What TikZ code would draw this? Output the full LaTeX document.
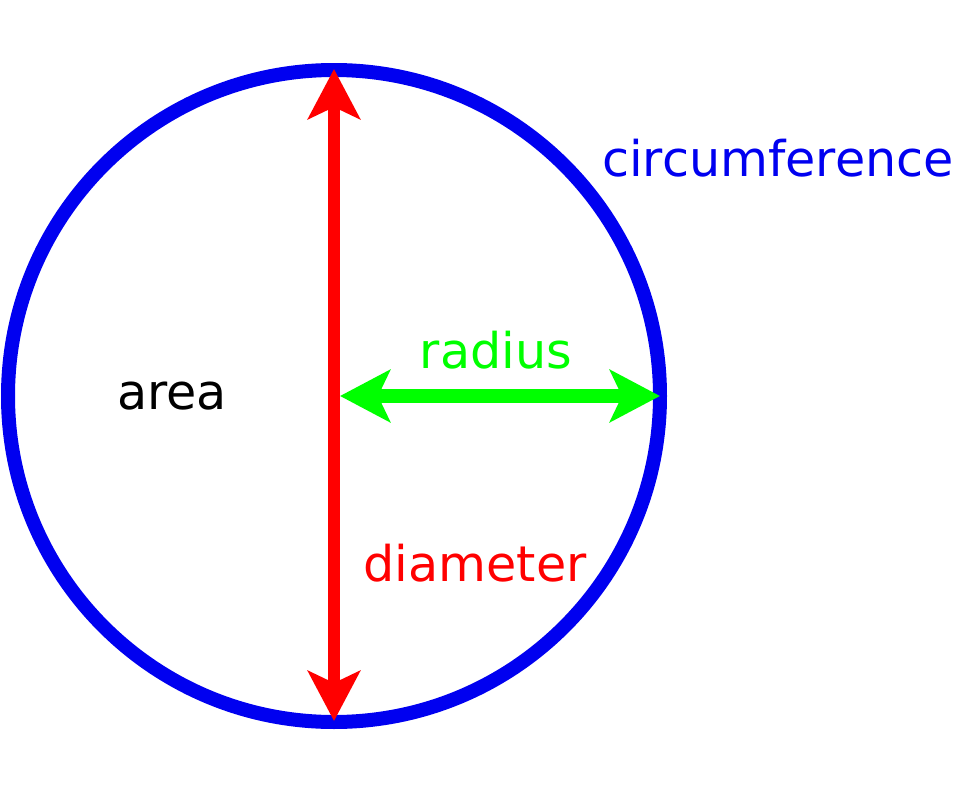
\documentclass[tikz,border=0pt]{standalone}
\usepackage{fontspec}
\setmainfont{DejaVu Sans}
\usetikzlibrary{arrows.meta}
\definecolor{ringblue}{RGB}{0,0,240}
\definecolor{diared}{RGB}{255,0,0}
\definecolor{radgreen}{RGB}{0,255,0}
\tikzset{
  lbl/.style={inner sep=0pt, font=\fontsize{14pt}{16pt}\selectfont},
  bigtip/.style={-{Stealth[length=0.5cm, width=0.52cm, inset=0.12cm]}}
}
\begin{document}
\begin{tikzpicture}

    % canvas
    \useasboundingbox (0,0) rectangle (9.55,7.93);

    % Circle
    \coordinate (c) at (3.34,3.97);
    \draw[ringblue, line width=0.14cm] (c) circle (3.26);

    % Diameter arrow
    \coordinate (top) at (3.34,7.24);
    \coordinate (bot) at (3.34,0.72);
    \draw[diared, line width=0.12cm, bigtip] (c) -- (top);
    \draw[diared, line width=0.12cm, bigtip] (c) -- (bot);

    % Radius arrow
    \coordinate (rl) at (3.40,3.97);
    \coordinate (rr) at (6.60,3.97);
    \draw[radgreen, line width=0.14cm, {Stealth[length=0.5cm, width=0.52cm, inset=0.12cm]}-{Stealth[length=0.5cm, width=0.52cm, inset=0.12cm]}] (rl) -- (rr);

    % Labels
    \node[lbl] (area) at (1.72,3.97) {area};
    \node[lbl, text=radgreen] (radius) at (4.96,4.43) {radius};
    \node[lbl, text=diared] (diameter) at (4.75,2.30) {diameter};
    \node[lbl, text=ringblue] (circumference) at (7.78,6.35) {circumference};
  \end{tikzpicture}
\end{document}
